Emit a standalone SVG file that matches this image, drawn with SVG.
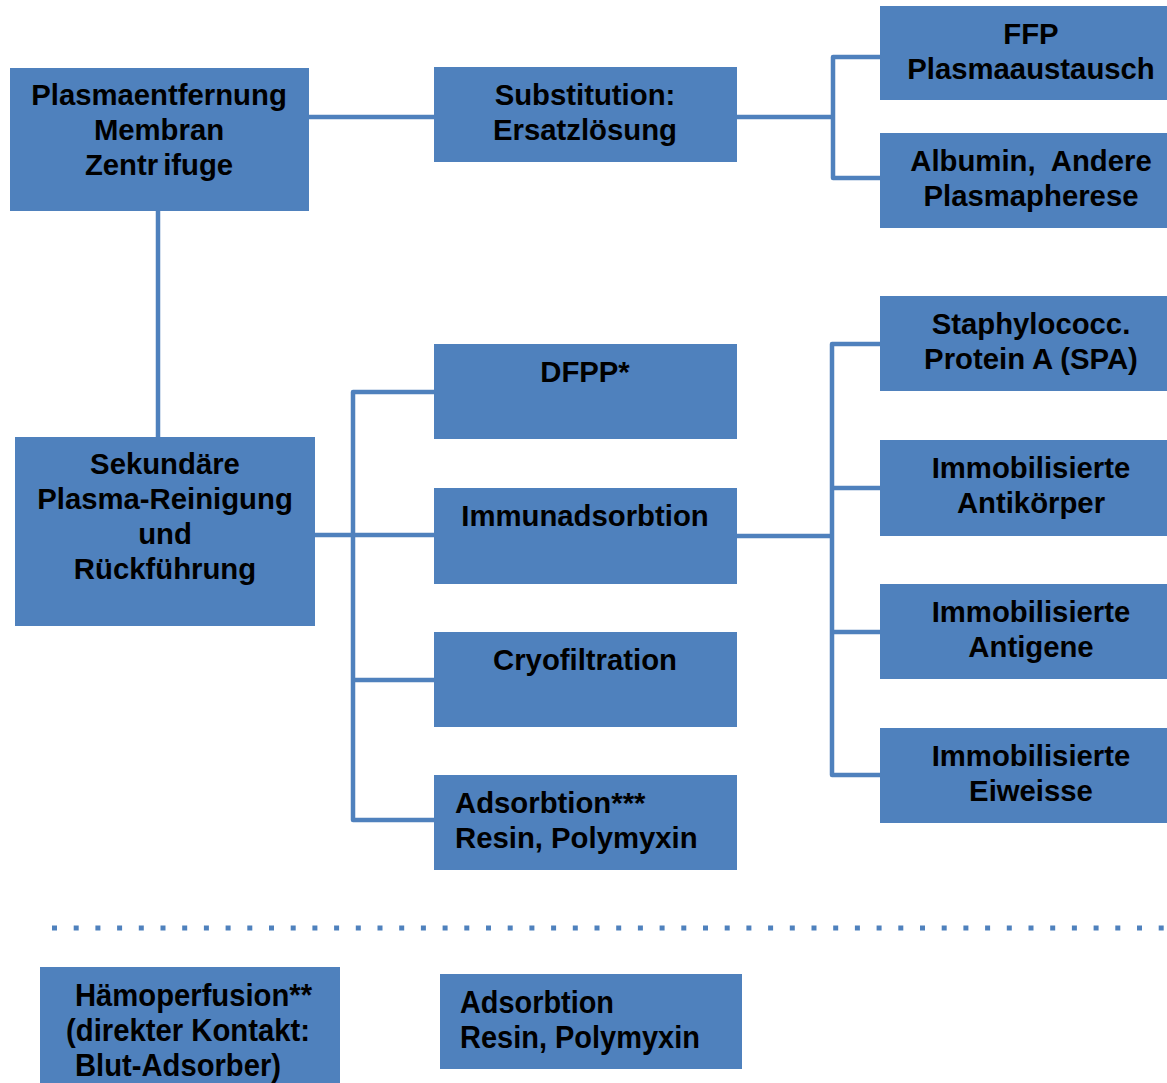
<svg xmlns="http://www.w3.org/2000/svg" width="1167" height="1083" viewBox="0 0 1167 1083">
  <style>
    .box { fill: #4F81BD; }
    .lbl { font-family: "Liberation Sans", Arial, sans-serif; font-weight: bold; font-size: 29.3px; fill: #000; text-anchor: middle; }
    .left { text-anchor: start; }
    .narrow { font-size: 32px; text-anchor: start; }
    .wire { fill: none; stroke: #4F81BD; stroke-width: 4.5; stroke-linejoin: round; }
    .sep { fill: none; stroke: #4F81BD; stroke-width: 5; stroke-dasharray: 5 16.7; }
  </style>

  <rect width="1167" height="1083" fill="#fff"/>

  <!-- connectors -->
  <g id="connectors">
    <path class="wire" d="M158 211 V437"/>
    <path class="wire" d="M309 117 H434"/>
    <path class="wire" d="M737 117 H833"/>
    <path class="wire" d="M880 57 H833 V178 H880"/>
    <path class="wire" d="M315 535 H353"/>
    <path class="wire" d="M434 392 H353 V820 H434"/>
    <path class="wire" d="M353 535 H434"/>
    <path class="wire" d="M353 680 H434"/>
    <path class="wire" d="M737 536 H832"/>
    <path class="wire" d="M880 344 H832 V775 H880"/>
    <path class="wire" d="M832 488 H880"/>
    <path class="wire" d="M832 632 H880"/>
    <path class="sep" d="M52 928 H1167"/>
  </g>

  <g id="plasmaentfernung">
    <rect class="box" x="10" y="68" width="299" height="143"/>
    <text class="lbl" x="159" y="105">Plasmaentfernung</text>
    <text class="lbl" x="159" y="140">Membran</text>
    <text class="lbl" x="159" y="175">Zentr<tspan dx="5">ifuge</tspan></text>
  </g>

  <g id="substitution">
    <rect class="box" x="434" y="67" width="303" height="95"/>
    <text class="lbl" x="585" y="105">Substitution:</text>
    <text class="lbl" x="585" y="140">Ersatzlösung</text>
  </g>

  <g id="ffp">
    <rect class="box" x="880" y="6" width="287" height="94"/>
    <text class="lbl" x="1031" y="44">FFP</text>
    <text class="lbl" x="1031" y="79">Plasmaaustausch</text>
  </g>

  <g id="albumin">
    <rect class="box" x="880" y="133" width="287" height="95"/>
    <text class="lbl" x="1031" y="171" style="white-space:pre">Albumin,  Andere</text>
    <text class="lbl" x="1031" y="206">Plasmapherese</text>
  </g>

  <g id="sekundaer">
    <rect class="box" x="15" y="437" width="300" height="189"/>
    <text class="lbl" x="165" y="474">Sekundäre</text>
    <text class="lbl" x="165" y="509">Plasma-Reinigung</text>
    <text class="lbl" x="165" y="544">und</text>
    <text class="lbl" x="165" y="579">Rückführung</text>
  </g>

  <g id="dfpp">
    <rect class="box" x="434" y="344" width="303" height="95"/>
    <text class="lbl" x="585" y="382">DFPP*</text>
  </g>

  <g id="immunadsorbtion">
    <rect class="box" x="434" y="488" width="303" height="96"/>
    <text class="lbl" x="585" y="526">Immunadsorbtion</text>
  </g>

  <g id="cryofiltration">
    <rect class="box" x="434" y="632" width="303" height="95"/>
    <text class="lbl" x="585" y="670">Cryofiltration</text>
  </g>

  <g id="adsorbtion">
    <rect class="box" x="434" y="775" width="303" height="95"/>
    <text class="lbl left" x="455" y="813">Adsorbtion***</text>
    <text class="lbl left" x="455" y="848">Resin, Polymyxin</text>
  </g>

  <g id="spa">
    <rect class="box" x="880" y="296" width="287" height="95"/>
    <text class="lbl" x="1031" y="334">Staphylococc.</text>
    <text class="lbl" x="1031" y="369">Protein A (SPA)</text>
  </g>

  <g id="antikoerper">
    <rect class="box" x="880" y="440" width="287" height="96"/>
    <text class="lbl" x="1031" y="478">Immobilisierte</text>
    <text class="lbl" x="1031" y="513">Antikörper</text>
  </g>

  <g id="antigene">
    <rect class="box" x="880" y="584" width="287" height="95"/>
    <text class="lbl" x="1031" y="622">Immobilisierte</text>
    <text class="lbl" x="1031" y="657">Antigene</text>
  </g>

  <g id="eiweisse">
    <rect class="box" x="880" y="728" width="287" height="95"/>
    <text class="lbl" x="1031" y="766">Immobilisierte</text>
    <text class="lbl" x="1031" y="801">Eiweisse</text>
  </g>

  <g id="haemoperfusion">
    <rect class="box" x="40" y="967" width="300" height="120"/>
    <text class="lbl narrow" x="75" y="1006" textLength="237" lengthAdjust="spacingAndGlyphs">Hämoperfusion**</text>
    <text class="lbl narrow" x="66" y="1041" textLength="244" lengthAdjust="spacingAndGlyphs">(direkter Kontakt:</text>
    <text class="lbl narrow" x="75" y="1076" textLength="206" lengthAdjust="spacingAndGlyphs">Blut-Adsorber)</text>
  </g>

  <g id="adsorbtion-hp">
    <rect class="box" x="440" y="974" width="302" height="95"/>
    <text class="lbl narrow" x="460" y="1013" textLength="154" lengthAdjust="spacingAndGlyphs">Adsorbtion</text>
    <text class="lbl narrow" x="460" y="1048" textLength="240" lengthAdjust="spacingAndGlyphs">Resin, Polymyxin</text>
  </g>
</svg>
